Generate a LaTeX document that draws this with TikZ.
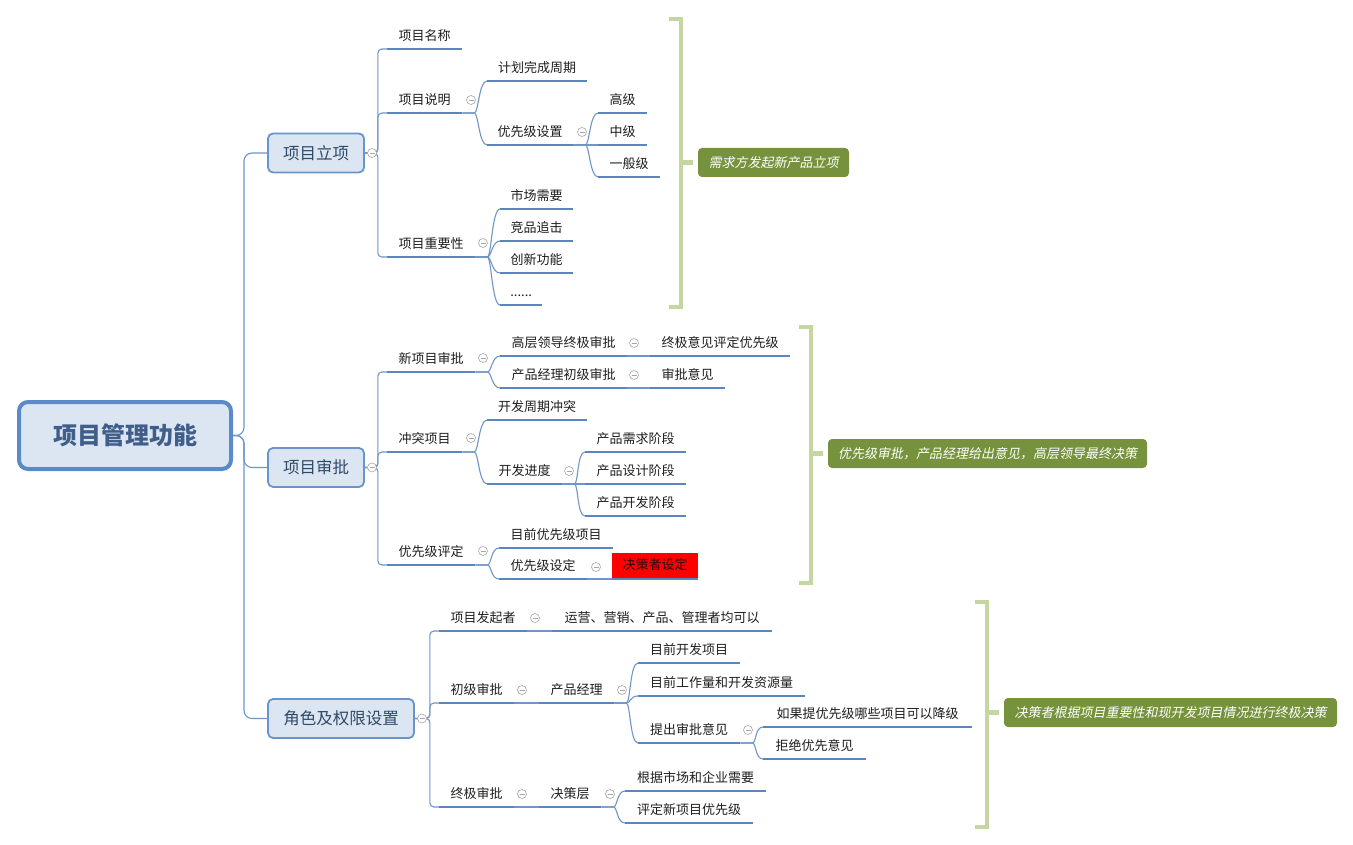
\documentclass[tikz,border=0pt]{standalone}
\usepackage{fontspec}
\setmainfont{Noto Sans CJK SC}
\newfontfamily\cjkit{Noto Sans CJK SC}[FakeSlant=0.2]
\usetikzlibrary{calc}
\definecolor{boxfill}{HTML}{DCE6F2}
\definecolor{lonebd}{HTML}{6A95CB}
\definecolor{rootbd}{HTML}{5A8AC8}
\definecolor{roottx}{HTML}{3F5F8A}
\definecolor{lonetx}{HTML}{2F4A68}
\definecolor{connc}{HTML}{6F96C6}
\definecolor{ulinec}{HTML}{5B86BD}
\definecolor{collc}{HTML}{A6A6A6}
\definecolor{brkc}{HTML}{C5D6A0}
\definecolor{sumgreen}{HTML}{76923C}
\definecolor{leaftx}{HTML}{1E1E1E}
\definecolor{redtx}{HTML}{2A0000}
\begin{document}
\begin{tikzpicture}[x=1pt,y=-1pt,
  rootbox/.style={draw=rootbd, line width=4pt, fill=boxfill, rounded corners=9pt,
    minimum width=212pt, minimum height=67pt, inner sep=0pt,
    font=\fontsize{24}{28}\selectfont\bfseries, text=roottx},
  lonebox/.style={draw=lonebd, line width=1.8pt, fill=boxfill, rounded corners=5pt,
    minimum width=96pt, minimum height=39pt, inner sep=0pt,
    font=\fontsize{16.5}{20}\selectfont, text=lonetx},
  leaf/.style={anchor=south west, inner xsep=0pt, inner ysep=5.5pt,
    text height=9.5pt, text depth=2.5pt, font=\fontsize{13}{15}\selectfont, text=leaftx},
  redleaf/.style={leaf, fill=red, minimum height=26pt, text=redtx},
  uline/.style={draw=ulinec, line width=2.8pt},
  conn/.style={draw=connc, line width=1.1pt},
  cv/.style={to path={.. controls ($(\tikztostart)+(4,0)$) and ($(\tikztotarget)+(-8,0)$) .. (\tikztotarget)}},
  collapse/.style={circle, draw=collc, fill=white, line width=0.6pt, minimum size=9pt, inner sep=0pt,
    path picture={\draw[collc, line width=0.6pt] ([xshift=-2.5pt]path picture bounding box.center) -- ([xshift=2.5pt]path picture bounding box.center);}},
  sumbox/.style={fill=sumgreen, rounded corners=4pt, text=white, minimum height=29pt, inner sep=0pt,
    font=\cjkit\fontsize{13}{15}\selectfont},
  brk/.style={draw=brkc, line width=4.5pt}
]
\fill[white] (0,0) rectangle (1353,845);
\useasboundingbox (0,0) rectangle (1353,845);

% root and level 1
\node[rootbox] (root) at (125,435.5) {项目管理功能};
\node[lonebox] (b1) at (316,153) {项目立项};
\node[lonebox] (b2) at (316,467.5) {项目审批};
\node[lonebox, minimum width=146pt] (b3) at (341,718.5) {角色及权限设置};

% branch 1
\node[leaf, minimum width=75pt] (n11) at (387,49) {项目名称};
\node[leaf, minimum width=75pt] (n12) at (387,113) {项目说明};
\node[leaf, minimum width=100pt] (n121) at (487,81) {计划完成周期};
\node[leaf, minimum width=86pt] (n122) at (487,145) {优先级设置};
\node[leaf, minimum width=49pt] (n1221) at (598,113) {高级};
\node[leaf, minimum width=49pt] (n1222) at (598,145) {中级};
\node[leaf, minimum width=62pt] (n1223) at (598,177) {一般级};
\node[leaf, minimum width=88pt] (n13) at (387,257) {项目重要性};
\node[leaf, minimum width=73pt] (n131) at (500,209) {市场需要};
\node[leaf, minimum width=73pt] (n132) at (500,241) {竞品追击};
\node[leaf, minimum width=73pt] (n133) at (500,273) {创新功能};
\node[leaf, minimum width=42pt] (n134) at (500,305) {......};

% branch 2
\node[leaf, minimum width=88pt] (n21) at (387,372) {新项目审批};
\node[leaf, minimum width=127pt] (n211) at (500,356) {高层领导终极审批};
\node[leaf, minimum width=140pt] (n2111) at (650,356) {终极意见评定优先级};
\node[leaf, minimum width=127pt] (n212) at (500,388) {产品经理初级审批};
\node[leaf, minimum width=75pt] (n2121) at (650,388) {审批意见};
\node[leaf, minimum width=75pt] (n22) at (387,452) {冲突项目};
\node[leaf, minimum width=100pt] (n221) at (487,420) {开发周期冲突};
\node[leaf, minimum width=75pt] (n222) at (487,484) {开发进度};
\node[leaf, minimum width=101pt] (n2221) at (585,452) {产品需求阶段};
\node[leaf, minimum width=101pt] (n2222) at (585,484) {产品设计阶段};
\node[leaf, minimum width=101pt] (n2223) at (585,516) {产品开发阶段};
\node[leaf, minimum width=88pt] (n23) at (387,565) {优先级评定};
\node[leaf, minimum width=114pt] (n231) at (499,548) {目前优先级项目};
\node[leaf, minimum width=88pt] (n232) at (499,579) {优先级设定};
\node[redleaf, minimum width=86pt] (n2321) at (612,579) {决策者设定};

% branch 3
\node[leaf, minimum width=88pt] (n31) at (439,631) {项目发起者};
\node[leaf, minimum width=220pt] (n311) at (552,631) {运营、营销、产品、管理者均可以};
\node[leaf, minimum width=75pt] (n32) at (439,703) {初级审批};
\node[leaf, minimum width=75pt] (n321) at (539,703) {产品经理};
\node[leaf, minimum width=102pt] (n3211) at (638,663) {目前开发项目};
\node[leaf, minimum width=167pt] (n3212) at (638,696) {目前工作量和开发资源量};
\node[leaf, minimum width=102pt] (n3213) at (638,743) {提出审批意见};
\node[leaf, minimum width=209pt] (n32131) at (763,727) {如果提优先级哪些项目可以降级};
\node[leaf, minimum width=103pt] (n32132) at (763,759) {拒绝优先意见};
\node[leaf, minimum width=75pt] (n33) at (439,807) {终极审批};
\node[leaf, minimum width=62pt] (n331) at (539,807) {决策层};
\node[leaf, minimum width=141pt] (n3311) at (625,791) {根据市场和企业需要};
\node[leaf, minimum width=128pt] (n3312) at (625,823) {评定新项目优先级};

% connectors root
\foreach \b in {b1,b2,b3}
  \draw[conn, rounded corners=8pt] (root.east) -- ++(11,0) |- (\b.west);
% level 1 -> level 2
\foreach \c in {n11,n12,n13}
  \draw[conn, rounded corners=4pt] (b1.east) -- ++(13,0) |- (\c.south west);
\foreach \c in {n21,n22,n23}
  \draw[conn, rounded corners=4pt] (b2.east) -- ++(13,0) |- (\c.south west);
\foreach \c in {n31,n32,n33}
  \draw[conn, rounded corners=4pt] (b3.east) -- ++(15,0) |- (\c.south west);
% curved links
\foreach \p/\c in {n12/n121,n12/n122,n122/n1221,n122/n1222,n122/n1223,
  n13/n131,n13/n132,n13/n133,n13/n134,
  n21/n211,n21/n212,n22/n221,n22/n222,n222/n2221,n222/n2222,n222/n2223,
  n23/n231,n23/n232,
  n321/n3211,n321/n3212,n321/n3213,n3213/n32131,n3213/n32132,
  n331/n3311,n331/n3312}
  \draw[conn] (\p.south east) -- ++(12,0) to[cv] (\c.south west);
% straight links
\foreach \p/\c in {n211/n2111,n212/n2121,n232/n2321,n31/n311,n32/n321,n33/n331}
  \draw[conn] (\p.south east) -- (\c.south west);

% underlines
\foreach \n in {n11,n12,n121,n122,n1221,n1222,n1223,n13,n131,n132,n133,n134,
  n21,n211,n2111,n212,n2121,n22,n221,n222,n2221,n2222,n2223,n23,n231,n232,n2321,
  n31,n311,n32,n321,n3211,n3212,n3213,n32131,n32132,n33,n331,n3311,n3312}
  \draw[uline] (\n.south west) -- (\n.south east);

% collapse markers
\node[collapse] (c1) at (372,153) {};
\node[collapse] (c2) at (372,467.5) {};
\node[collapse] (c3) at (422,718.5) {};
\node[collapse] (c12) at (471,100) {};
\node[collapse] (c122) at (582,132) {};
\node[collapse] (c13) at (483,243) {};
\node[collapse] (c21) at (483,358) {};
\node[collapse] (c211) at (634,343) {};
\node[collapse] (c212) at (634,375) {};
\node[collapse] (c22) at (471,438) {};
\node[collapse] (c222) at (569,471) {};
\node[collapse] (c23) at (483,551) {};
\node[collapse] (c232) at (596,567) {};
\node[collapse] (c31) at (535,618) {};
\node[collapse] (c32) at (522,690) {};
\node[collapse] (c321) at (622,690) {};
\node[collapse] (c3213) at (748,730) {};
\node[collapse] (c33) at (522,794) {};
\node[collapse] (c331) at (610,794) {};

% summaries
\node[sumbox, minimum width=151pt] (s1) at (773.5,162.5) {需求方发起新产品立项};
\node[sumbox, minimum width=319pt] (s2) at (987.5,453.5) {优先级审批，产品经理给出意见，高层领导最终决策};
\node[sumbox, minimum width=333pt] (s3) at (1170.5,712.5) {决策者根据项目重要性和现开发项目情况进行终极决策};

\coordinate (k1) at (681,162.5);
\coordinate (k2) at (811,453.5);
\coordinate (k3) at (987,712.5);
\draw[brk] (669,19) -- (681,19) -- (681,307) -- (669,307);
\draw[brk] (k1) -- ([xshift=-5pt]s1.west);
\draw[brk] (799,327) -- (811,327) -- (811,583) -- (799,583);
\draw[brk] (k2) -- ([xshift=-5pt]s2.west);
\draw[brk] (975,602) -- (987,602) -- (987,827) -- (975,827);
\draw[brk] (k3) -- ([xshift=-5pt]s3.west);
\end{tikzpicture}
\end{document}
